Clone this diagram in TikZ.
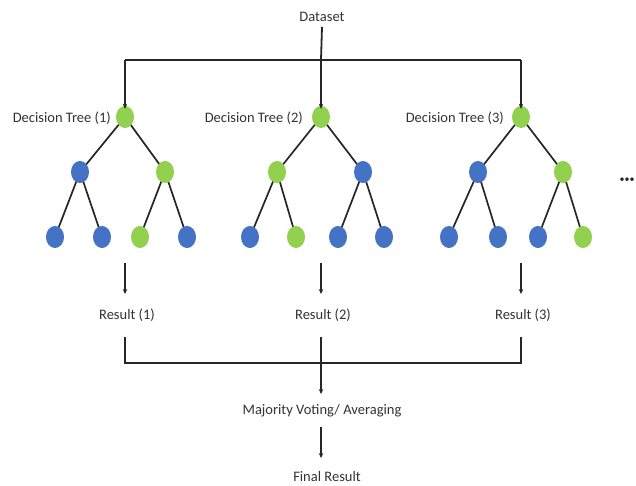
\documentclass[tikz,border=0pt]{standalone}
\usepackage{fontspec}
\setmainfont{Carlito}
\usetikzlibrary{arrows.meta,shapes.geometric}
\definecolor{leafgreen}{HTML}{92D050}
\definecolor{leafblue}{HTML}{4472C4}
\definecolor{ink}{HTML}{262626}
\definecolor{txt}{HTML}{333333}
\begin{document}
\begin{tikzpicture}[x=1pt,y=-1pt,
  lbl/.style={text=txt,font=\fontsize{14.5}{16}\selectfont,inner sep=0pt},
  gnode/.style={ellipse,fill=leafgreen,minimum width=18pt,minimum height=22pt,inner sep=0pt},
  bnode/.style={ellipse,fill=leafblue,minimum width=18pt,minimum height=22pt,inner sep=0pt},
  edge/.style={draw=ink,line width=1.7pt},
  flow/.style={draw=ink,line width=1.8pt},
  flowarrow/.style={flow,-{Stealth[length=5pt,width=4.5pt]}}]
\useasboundingbox (0,0) rectangle (636,486);
\fill[white] (0,0) rectangle (636,486);

% top: dataset split into three trees
\node[lbl] (data) at (322,17) {Dataset};
\coordinate (split) at (321,60);
\coordinate (splitL) at (125,60);
\coordinate (splitR) at (521,60);

% ---- tree 1 ----
\coordinate (r1) at (125,117);
\coordinate (a1) at (80,172);
\coordinate (b1) at (165,172);
\coordinate (a1l) at (55,237);
\coordinate (a1r) at (102,237);
\coordinate (b1l) at (140,237);
\coordinate (b1r) at (187,237);
% ---- tree 2 ----
\coordinate (r2) at (321,117);
\coordinate (a2) at (277,172);
\coordinate (b2) at (363,172);
\coordinate (a2l) at (250,237);
\coordinate (a2r) at (296,237);
\coordinate (b2l) at (338,237);
\coordinate (b2r) at (384,237);
% ---- tree 3 ----
\coordinate (r3) at (521,117);
\coordinate (a3) at (478,172);
\coordinate (b3) at (563,172);
\coordinate (a3l) at (449,237);
\coordinate (a3r) at (498,237);
\coordinate (b3l) at (538,237);
\coordinate (b3r) at (583,237);

% branches
\foreach \t in {1,2,3}{
  \draw[edge] (r\t) -- (a\t) (r\t) -- (b\t)
              (a\t) -- (a\t l) (a\t) -- (a\t r)
              (b\t) -- (b\t l) (b\t) -- (b\t r);
}

% tree nodes
\node[gnode] (n-r1) at (r1) {};
\node[bnode] (n-a1) at (a1) {};
\node[gnode] (n-b1) at (b1) {};
\node[bnode] at (a1l) {};
\node[bnode] at (a1r) {};
\node[gnode] at (b1l) {};
\node[bnode] at (b1r) {};

\node[gnode] (n-r2) at (r2) {};
\node[gnode] at (a2) {};
\node[bnode] at (b2) {};
\node[bnode] at (a2l) {};
\node[gnode] at (a2r) {};
\node[bnode] at (b2l) {};
\node[bnode] at (b2r) {};

\node[gnode] (n-r3) at (r3) {};
\node[bnode] at (a3) {};
\node[gnode] at (b3) {};
\node[bnode] at (a3l) {};
\node[bnode] at (a3r) {};
\node[bnode] at (b3l) {};
\node[gnode] at (b3r) {};

% tree titles
\node[lbl,anchor=east] (t1) at (111,118) {Decision Tree (1)};
\node[lbl,anchor=east] (t2) at (303,118) {Decision Tree (2)};
\node[lbl,anchor=east] (t3) at (504,118) {Decision Tree (3)};
\node[text=ink,font=\fontsize{10}{10}\selectfont,inner sep=0pt] (more) at (627,180) {•••};

% feed the dataset to each tree
\draw[flow] (data.south) ++(0,5) -- (split);
\draw[flow] (splitL) -- (splitR);
\draw[flowarrow] (splitL) -- ([yshift=-3pt]n-r1.north);
\draw[flowarrow] (split) -- ([yshift=-3pt]n-r2.north);
\draw[flowarrow] (splitR) -- ([yshift=-3pt]n-r3.north);

% results
\node[lbl] (res1) at (127,315) {Result (1)};
\node[lbl] (res2) at (323,315) {Result (2)};
\node[lbl] (res3) at (523,315) {Result (3)};
\coordinate (o1) at (125,263);
\coordinate (o2) at (321,263);
\coordinate (o3) at (521,263);
\draw[flowarrow] (o1) -- (125,294);
\draw[flowarrow] (o2) -- (321,294);
\draw[flowarrow] (o3) -- (521,294);

% combine the results
\coordinate (j1) at (125,363);
\coordinate (j2) at (321,363);
\coordinate (j3) at (521,363);
\node[lbl] (vote) at (322,411) {Majority Voting/ Averaging};
\node[lbl] (final) at (327,477) {Final Result};
\draw[flow] (125,337) -- (j1) -- (j3) -- (521,337);
\draw[flowarrow] (321,337) -- (321,394);
\draw[flowarrow] (321,427) -- (321,458);
\end{tikzpicture}
\end{document}
